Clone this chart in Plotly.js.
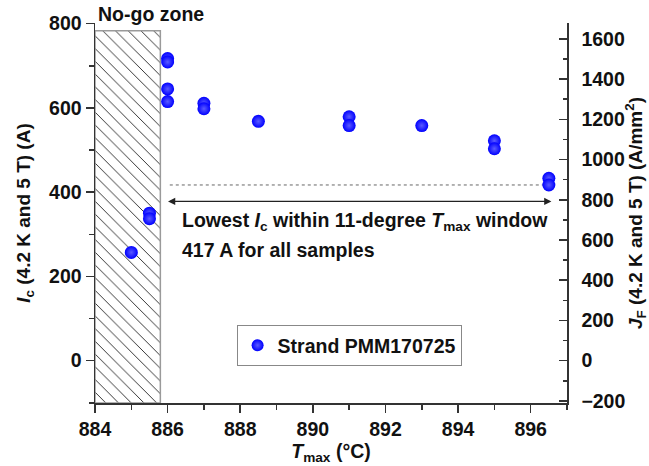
<!DOCTYPE html>
<html>
<head>
<meta charset="utf-8">
<script src="https://cdn.plot.ly/plotly-3.0.1.min.js"></script>
<style>html,body{margin:0;padding:0;background:#fff;} #chart{width:649px;height:466px;}</style>
</head>
<body>
<div id="chart"></div>
<script>
// Data
const tmax = [885, 885.5, 885.5, 886, 886, 886, 886, 887, 887, 888.5, 891, 891, 893, 895, 895, 896.5, 896.5];
const ic   = [257, 350, 337, 717, 709, 645, 615, 611, 598, 568, 579, 558, 558, 522, 503, 433, 417];
const seriesName = 'Strand PMM170725';

// No-go zone and lowest-Ic window
const nogoStart = 884, nogoEnd = 885.8, nogoTop = 783;
const lowestIc = 417;
const windowLine = [886.06, 896.4];
const windowArrow = [885.97, 896.57];
const arrowLevel = 378;
const noteLines = [
  'Lowest <i>I</i><sub>c</sub> within 11-degree <i>T</i><sub>max</sub> window',
  '417 A for all samples'
];
const noteLevels = [330, 262];
const noteX = 886.35;

// Axis ranges (Jf axis is Ic scaled by strand area factor)
const icRange = [-100.5, 801.5];
const jfFactor = 2.095;
const jfRange = [icRange[0] * jfFactor, icRange[1] * jfFactor];
const xRange = [884, 897];

const axisColor = '#333';
const FONT = 'Liberation Sans, Arial, sans-serif';

const traces = [
  {
    type: 'bar',
    x: [(nogoStart + nogoEnd) / 2],
    width: [nogoEnd - nogoStart],
    base: [icRange[0]],
    y: [nogoTop - icRange[0]],
    marker: {
      color: 'white',
      line: {color: '#9a9a9a', width: 1.5},
      pattern: {shape: '\\', size: 9, solidity: 0.1, fgcolor: '#222', bgcolor: 'white', fillmode: 'replace'}
    },
    showlegend: false,
    hoverinfo: 'skip'
  },
  {
    type: 'scatter', mode: 'lines',
    x: windowLine, y: [lowestIc, lowestIc],
    line: {color: '#666', width: 1, dash: 'dot'},
    showlegend: false, hoverinfo: 'skip'
  },
  {
    type: 'scatter', mode: 'markers',
    name: seriesName,
    x: tmax, y: ic,
    marker: {
      size: 13, color: '#0000ff',
      gradient: {type: 'radial', color: '#5a5aff'},
      line: {width: 0}
    }
  },
  {
    type: 'scatter', mode: 'markers', x: [], y: [], yaxis: 'y2', showlegend: false, hoverinfo: 'skip'
  }
];

const annotations = [
  {
    xref: 'x', yref: 'paper', x: nogoStart, y: 1, xanchor: 'left', yanchor: 'bottom',
    text: 'No-go zone', showarrow: false, font: {size: 19.5, weight: 'bold'}, xshift: 1, yshift: -4
  },
  {
    xref: 'x', yref: 'y', axref: 'x', ayref: 'y',
    x: windowArrow[1], y: arrowLevel, ax: windowArrow[0], ay: arrowLevel,
    text: '', showarrow: true, arrowside: 'end+start', arrowhead: 2, arrowsize: 1.2,
    arrowwidth: 1.2, arrowcolor: '#222', standoff: 0, startstandoff: 0
  }
];
noteLines.forEach((t, i) => annotations.push({
  xref: 'x', yref: 'y', x: noteX, y: noteLevels[i], xanchor: 'left', yanchor: 'middle',
  align: 'left', showarrow: false, text: t, font: {size: 19.5, weight: 'bold'}
}));

const layout = {
  width: 649, height: 466,
  margin: {l: 95, r: 81.5, t: 23, b: 63},
  paper_bgcolor: 'white', plot_bgcolor: 'white',
  font: {family: FONT, size: 18, color: '#111', weight: 'bold'},
  bargap: 0,
  showlegend: true,
  legend: {
    x: 0.3, y: 0.205, xanchor: 'left', yanchor: 'top',
    bordercolor: '#888', borderwidth: 1, bgcolor: 'white',
    font: {family: FONT, size: 19.5, weight: 'bold', color: '#111'},
    itemsizing: 'constant'
  },
  xaxis: {
    range: xRange, showgrid: false, zeroline: false,
    showline: true, linecolor: axisColor, linewidth: 1.5,
    ticks: 'outside', ticklen: 8, tickwidth: 1.5, tickcolor: axisColor,
    tick0: 884, dtick: 2,
    minor: {ticks: 'outside', ticklen: 5, tickwidth: 1.5, tickcolor: axisColor, dtick: 1},
    tickfont: {size: 19.5, weight: 'bold'},
    title: {text: '<i>T</i><sub>max</sub> (°C)', font: {size: 19.5, weight: 'bold'}, standoff: 5}
  },
  yaxis: {
    range: icRange, showgrid: false, zeroline: false,
    showline: true, linecolor: axisColor, linewidth: 1.5,
    ticks: 'outside', ticklen: 8, tickwidth: 1.5, tickcolor: axisColor,
    tick0: 0, dtick: 200,
    minor: {ticks: 'outside', ticklen: 5, tickwidth: 1.5, tickcolor: axisColor, dtick: 100},
    tickfont: {size: 19.5, weight: 'bold'},
    title: {text: '<i>I</i><sub>c</sub> (4.2 K and 5 T) (A)', font: {size: 19, weight: 'bold'}, standoff: 13}
  },
  yaxis2: {
    range: jfRange, overlaying: 'y', side: 'right', anchor: 'x',
    showgrid: false, zeroline: false,
    showline: true, linecolor: axisColor, linewidth: 1.5,
    ticks: 'inside', ticklen: 8, tickwidth: 1.5, tickcolor: axisColor,
    tick0: 0, dtick: 200,
    minor: {ticks: 'inside', ticklen: 4, tickwidth: 1.5, tickcolor: axisColor, dtick: 100},
    ticklabelstandoff: 9,
    tickfont: {size: 19.5, weight: 'bold'},
    title: {text: '<i>J</i><sub>F</sub> (4.2 K and 5 T) (A/mm<sup>2</sup>)', font: {size: 19, weight: 'bold'}, standoff: 14}
  },
  annotations: annotations
};

Plotly.newPlot('chart', traces, layout, {displayModeBar: false, staticPlot: true});
</script>
</body>
</html>
